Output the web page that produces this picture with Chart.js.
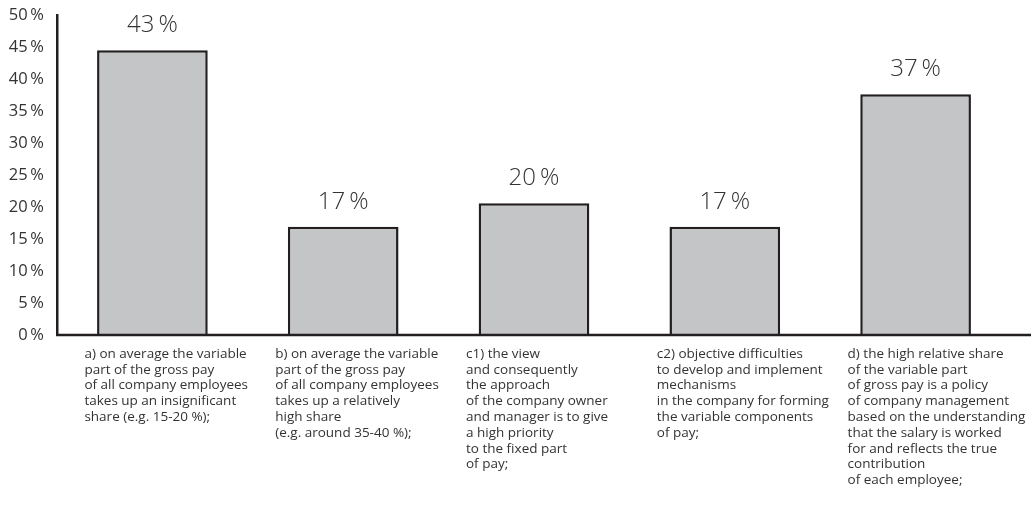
<!DOCTYPE html>
<html>
<head>
<meta charset="utf-8">
<style>
  html, body { margin: 0; padding: 0; background: #fff; }
  #wrap { width: 1031px; height: 518px; }
</style>
<script src="https://cdn.jsdelivr.net/npm/chart.js@4/dist/chart.umd.min.js"></script>
</head>
<body>
<div id="wrap"><canvas id="salaryChart"></canvas></div>
<script>
var categories = [
    ['a) on average the variable', 'part of the gross pay', 'of all company employees', 'takes up an insignificant', 'share (e.g. 15-20 %);'],
    ['b) on average the variable', 'part of the gross pay', 'of all company employees', 'takes up a relatively', 'high share', '(e.g. around 35-40 %);'],
    ['c1) the view', 'and consequently', 'the approach', 'of the company owner', 'and manager is to give', 'a high priority', 'to the fixed part', 'of pay;'],
    ['c2) objective difficulties', 'to develop and implement', 'mechanisms', 'in the company for forming', 'the variable components', 'of pay;'],
    ['d) the high relative share', 'of the variable part', 'of gross pay is a policy', 'of company management', 'based on the understanding', 'that the salary is worked', 'for and reflects the true', 'contribution', 'of each employee;']
];
// bar heights as drawn, printed labels as written
var values = [44.5, 16.9, 20.6, 16.9, 37.6];
var valueLabels = ['43\u2009%', '17\u2009%', '20\u2009%', '17\u2009%', '37\u2009%'];

var textColor = '#333333';
var lineColor = '#231f20';

// labels above the bars
var valueLabelPlugin = {
    id: 'valueLabels',
    afterDatasetsDraw: function(chart) {
        var ctx = chart.ctx;
        var meta = chart.getDatasetMeta(0);
        ctx.save();
        ctx.font = '300 24px "Open Sans"';
        ctx.fillStyle = textColor;
        ctx.textAlign = 'center';
        ctx.textBaseline = 'middle';
        meta.data.forEach(function(bar, i) {
            ctx.fillText(valueLabels[i], bar.x, bar.y - 25);
        });
        ctx.restore();
    }
};

// x axis line runs to the right edge of the picture
var baselinePlugin = {
    id: 'baseline',
    afterDatasetsDraw: function(chart) {
        var ctx = chart.ctx;
        var y = chart.scales.y.getPixelForValue(0);
        ctx.save();
        ctx.strokeStyle = lineColor;
        ctx.lineWidth = 2.5;
        ctx.beginPath();
        ctx.moveTo(chart.chartArea.left - 1, y);
        ctx.lineTo(chart.width, y);
        ctx.stroke();
        ctx.restore();
    }
};

var ctx = document.getElementById('salaryChart').getContext('2d');

var salaryChart = new Chart(ctx, {
    type: 'bar',
    data: {
        labels: categories,
        datasets: [{
            data: values,
            backgroundColor: '#c4c5c7',
            borderColor: lineColor,
            borderWidth: 2.5,
            barPercentage: 0.58,
            categoryPercentage: 1
        }]
    },
    options: {
        responsive: true,
        maintainAspectRatio: false,
        animation: false,
        layout: {
            padding: { top: 15, right: 20, left: 0, bottom: 0 }
        },
        scales: {
            x: {
                grid: { display: false, drawTicks: false },
                border: { display: false },
                ticks: {
                    autoSkip: false,
                    maxRotation: 0,
                    minRotation: 0,
                    align: 'start',
                    labelOffset: -68,
                    padding: 11,
                    color: textColor,
                    font: { family: '"Open Sans"', size: 13.5, lineHeight: 1.17 }
                },
                afterFit: function(scale) {
                    scale.height = 183;
                    scale.paddingLeft = 0;
                    scale.paddingRight = 0;
                }
            },
            y: {
                min: 0,
                max: 50,
                grid: { display: false, drawTicks: false },
                border: { display: true, color: lineColor, width: 2.5 },
                ticks: {
                    stepSize: 5,
                    padding: 13,
                    color: textColor,
                    font: { family: '"Open Sans"', size: 16.5 },
                    callback: function(v) { return v + '\u2009%'; }
                },
                afterFit: function(scale) {
                    scale.width = 57;
                    scale.paddingTop = 0;
                    scale.paddingBottom = 0;
                }
            }
        },
        plugins: {
            legend: { display: false },
            tooltip: { enabled: false }
        }
    },
    plugins: [valueLabelPlugin, baselinePlugin]
});
</script>
</body>
</html>
